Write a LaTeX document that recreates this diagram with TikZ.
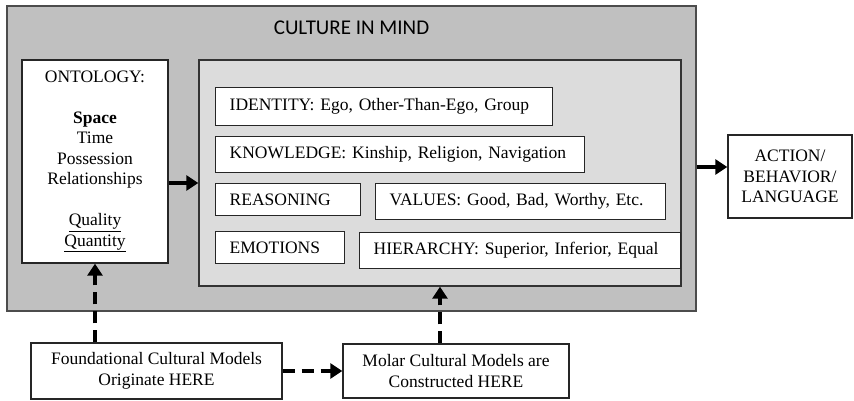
\documentclass[tikz,border=0pt]{standalone}
\usepackage{fontspec}
\setmainfont{Liberation Serif}
\newfontfamily\titlefont{Carlito}
\usepackage{tikz}
\usetikzlibrary{arrows.meta}
\usetikzlibrary{calc}
\definecolor{outergray}{RGB}{192,192,192}
\definecolor{innergray}{RGB}{220,220,220}

\begin{document}
\begin{tikzpicture}[x=1pt, y=-1pt,
    box/.style={draw=black!85, line width=1.4pt, fill=white, rectangle, inner sep=0pt, align=center, font=\fontsize{17.5}{20.5}\selectfont},
    itembox/.style={box, anchor=north west, align=left, inner xsep=14pt},
    solidarrow/.style={line width=4.5pt, -{Triangle[width=15pt,length=12pt]}},
    dasharrow/.style={solidarrow, dash pattern=on 12pt off 7pt}]

    \useasboundingbox (0,0) rectangle (854,401);

    % Define nodes
    \node (outer) [draw=black!70, line width=1.4pt, fill=outergray, minimum width=689pt, minimum height=305pt] at (351.5,158.5) {};
    \node (title) [font=\titlefont\fontsize{21}{24}\selectfont] at ($(outer.north) + (0,22)$) {CULTURE IN MIND};

    \node (inner) [draw=black!80, line width=1.4pt, fill=innergray, minimum width=482pt, minimum height=226pt] at (440,173) {};

    \node (onto) [box, minimum width=146pt, minimum height=203pt] at (95,161.5) {ONTOLOGY:\\[20.5pt] \textbf{Space}\\ Time\\ Possession\\ Relationships\\[20.5pt] \underline{Quality}\\ \underline{Quantity}};

    \node (ident) [itembox, minimum width=337pt, text width=309pt, minimum height=38pt] at (215,87) {IDENTITY: Ego, Other-Than-Ego, Group};
    \node (know) [itembox, minimum width=369pt, text width=341pt, minimum height=36pt] at (215,136) {KNOWLEDGE: Kinship, Religion, Navigation};
    \node (reason) [itembox, minimum width=145pt, text width=117pt, minimum height=32pt] at (215,183) {REASONING};
    \node (values) [itembox, minimum width=290pt, text width=262pt, minimum height=36pt] at (375,183) {VALUES: Good, Bad, Worthy, Etc.};
    \node (emot) [itembox, minimum width=129pt, text width=101pt, minimum height=32pt] at (215,231) {EMOTIONS};
    \node (hier) [itembox, minimum width=321pt, text width=293pt, minimum height=36pt] at (359,232) {HIERARCHY: Superior, Inferior, Equal};

    \node (action) [box, minimum width=124pt, minimum height=83pt] at (790,176.5) {ACTION/\\BEHAVIOR/\\LANGUAGE};

    \node (found) [box, minimum width=251pt, minimum height=56pt] at (156.5,371) {Foundational Cultural Models\\Originate HERE};
    \node (molar) [box, minimum width=226pt, minimum height=54pt] at (456,371) {Molar Cultural Models are\\Constructed HERE};

    % Draw arrows
    \draw[solidarrow] ([yshift=-21.5pt]onto.east) -- ([yshift=-10pt]inner.west);
    \draw[solidarrow] ([yshift=-8.5pt]outer.east) -- ([yshift=9.5pt]action.west);
    \draw[dasharrow] ([xshift=-61.5pt]found.north) -- (onto.south);
    \draw[dasharrow] ([xshift=-16pt]molar.north) -- (inner.south);
    \draw[dasharrow] (found.east) -- (molar.west);

\end{tikzpicture}
\end{document}
